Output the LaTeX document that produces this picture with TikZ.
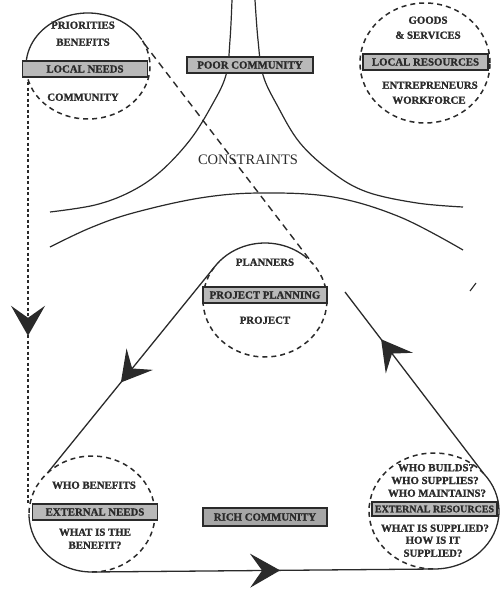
\documentclass[tikz,border=0pt]{standalone}
\usepackage{fontspec}
\setmainfont{Liberation Serif}
\newfontfamily\heavyface[BoldFeatures={FakeBold=1.3}]{Liberation Serif}
\usetikzlibrary{arrows.meta,decorations.markings}
\definecolor{ink}{HTML}{2A2A2A}
\definecolor{boxfill}{HTML}{B9B9B9}
\definecolor{richfill}{HTML}{A6A6A6}
\tikzset{
  bigtip/.tip={Stealth[length=30pt,width=34pt,inset=12pt,color=ink]},
  lbl/.style={font=\heavyface\fontsize{10.8}{12}\selectfont\bfseries, text=ink, inner sep=0pt, anchor=base},
  tag/.style={draw=ink, line width=1.4pt, fill=boxfill, minimum width=125pt, minimum height=16pt,
     inner sep=0pt, font=\heavyface\fontsize{10.8}{12}\selectfont\bfseries, text=ink},
  solidline/.style={draw=ink, line width=1.3pt},
  ringdash/.style={draw=ink, line width=1.5pt, dash pattern=on 5pt off 4pt},
  finedash/.style={draw=ink, line width=1.4pt, dash pattern=on 3pt off 2.5pt},
  diagdash/.style={draw=ink, line width=1.4pt, dash pattern=on 7pt off 5pt},
  midarrow/.style={postaction={decorate}, decoration={markings, mark=at position #1 with {\arrow{bigtip}}}}
}
\begin{document}
\begin{tikzpicture}[x=1pt,y=-1pt]
\useasboundingbox (0,0) rectangle (500,589);
% centres of the rings
\coordinate (tlc) at (88,66);
\coordinate (trc) at (425,63);
\coordinate (pc) at (265,300);
\coordinate (enc) at (92,514);
\coordinate (erc) at (434,511);

% constraints curves
\draw[solidline, line width=1.2pt] plot[smooth, tension=0.6] coordinates
  {(232,0) (230,40) (226,75) (212,105) (190,140) (160,172) (130,192) (95,205) (50,212)};
\draw[solidline, line width=1.2pt] plot[smooth, tension=0.6] coordinates
  {(255,0) (258,40) (263,75) (277,105) (300,143) (333,173) (367,192) (417,203) (463,207)};
\draw[solidline, line width=1.2pt] plot[smooth, tension=0.6] coordinates
  {(50,247) (90,228) (133,213) (200,198) (260,193) (333,197) (400,217) (463,250)};

% top-left ring: local needs
\draw[solidline] ([shift={(30:62pt and 53pt)}]tlc) arc[start angle=30, end angle=185, x radius=62pt, y radius=53pt];
\draw[ringdash] ([shift={(185:62pt and 53pt)}]tlc) arc[start angle=185, end angle=390, x radius=62pt, y radius=53pt];
% top-right ring: local resources
\draw[ringdash] (trc) ellipse[x radius=65pt, y radius=60pt];
% planning ring
\draw[solidline] ([shift={(50:62pt and 57pt)}]pc) arc[start angle=50, end angle=145, x radius=62pt, y radius=57pt];
\draw[ringdash] ([shift={(145:62pt and 57pt)}]pc) arc[start angle=145, end angle=410, x radius=62pt, y radius=57pt];
% external needs ring
\draw[solidline] ([shift={(180:63pt and 58pt)}]enc) arc[start angle=180, end angle=270, x radius=63pt, y radius=58pt];
\draw[ringdash] ([shift={(-90:63pt and 58pt)}]enc) arc[start angle=-90, end angle=180, x radius=63pt, y radius=58pt];
% external resources ring
\draw[solidline] ([shift={(-90:65pt and 58pt)}]erc) arc[start angle=-90, end angle=40, x radius=65pt, y radius=58pt];
\draw[ringdash] ([shift={(40:65pt and 58pt)}]erc) arc[start angle=40, end angle=270, x radius=65pt, y radius=58pt];

% connector end points
\coordinate (diagA) at ([shift={(25:62pt and 53pt)}]tlc);
\coordinate (diagB) at ([shift={(40:62pt and 57pt)}]pc);
\coordinate (vtop) at (28,82);
\coordinate (vbot) at (28,505);
\coordinate (plL) at ([shift={(145:62pt and 57pt)}]pc);
\coordinate (enT) at ([shift={(135:63pt and 58pt)}]enc);
\coordinate (enB) at ([shift={(-90:63pt and 58pt)}]enc);
\coordinate (erB) at ([shift={(-90:65pt and 58pt)}]erc);
\coordinate (erT) at ([shift={(40:65pt and 58pt)}]erc);
\coordinate (rfree) at (345,292);

% connectors
\draw[diagdash] (diagA) -- (diagB);
\draw[finedash, midarrow=0.6] (vtop) -- (vbot);
\draw[solidline, midarrow=0.56] (plL) -- (enT);
\draw[solidline, midarrow=0.55] (enB) -- (erB);
\draw[solidline, midarrow=0.74] (erT) -- (rfree);
% small stray stroke
\draw[solidline, line width=1.1pt] (470,291) -- (476,283);

% boxes
\node[tag] (localneeds) at (85,69) {LOCAL NEEDS};
\node[tag, minimum width=126pt] (poor) at (250,65) {POOR COMMUNITY};
\node[tag] (localres) at (425.5,62) {LOCAL RESOURCES};
\node[tag, minimum width=124pt] (planning) at (265,295) {PROJECT PLANNING};
\node[tag] (extneeds) at (95,512) {EXTERNAL NEEDS};
\node[tag, minimum height=14pt, font=\heavyface\fontsize{10}{11}\selectfont\bfseries] (extres) at (434.5,509) {EXTERNAL RESOURCES};
\node[tag, fill=richfill, minimum width=124pt, minimum height=18pt] (rich) at (265,517) {RICH COMMUNITY};

% texts
\node[lbl] (prio) at (83,28.7) {PRIORITIES};
\node[lbl] (bene) at (83,45.7) {BENEFITS};
\node[lbl] (comm) at (83,100.7) {COMMUNITY};
\node[lbl] (goods) at (428,23.7) {GOODS};
\node[lbl] (serv) at (428,38.7) {\& SERVICES};
\node[lbl] (entre) at (430,88.7) {ENTREPRENEURS};
\node[lbl] (work) at (429,103.7) {WORKFORCE};
\node[lbl] (plan) at (265,265.7) {PLANNERS};
\node[lbl] (proj) at (265,323.7) {PROJECT};
\node[lbl] (whob) at (94,488.7) {WHO BENEFITS};
\node[lbl] (what1) at (95,535.7) {WHAT IS THE};
\node[lbl] (what2) at (95,548.7) {BENEFIT?};
\node[lbl] (build) at (436,471.2) {WHO BUILDS?};
\node[lbl] (supp) at (435,484) {WHO SUPPLIES?};
\node[lbl] (maint) at (437,496.7) {WHO MAINTAINS?};
\node[lbl] (whats) at (435,531.7) {WHAT IS SUPPLIED?};
\node[lbl] (howis) at (433,543.7) {HOW IS IT};
\node[lbl] (supd) at (433,556.7) {SUPPLIED?};
\node[font=\fontsize{14.5}{16}\selectfont, text=ink, inner sep=0pt] (constr) at (248,160) {CONSTRAINTS};
\end{tikzpicture}
\end{document}
